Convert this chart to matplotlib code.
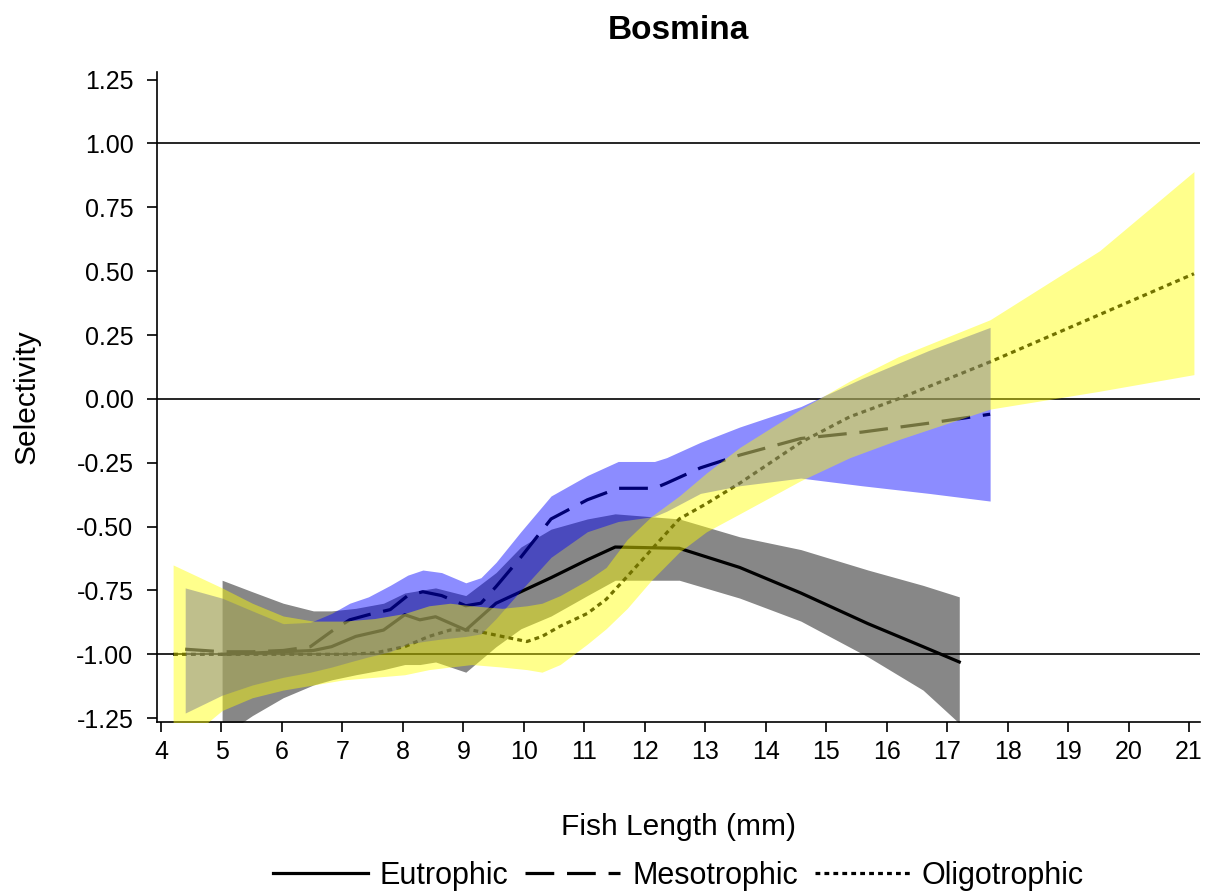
import numpy as np
import matplotlib
matplotlib.use("Agg")
import matplotlib.pyplot as plt
from matplotlib.ticker import FormatStrFormatter

plt.rcParams['font.family'] = ['Liberation Sans', 'DejaVu Sans']
plt.rcParams['axes.unicode_minus'] = False

# Eutrophic (solid line, gray band)
eu_x = [5.01, 5.51, 6.02, 6.52, 6.82, 7.22, 7.68, 8.03, 8.28, 8.54, 9.04, 9.54, 9.95, 10.45, 11.05, 11.51, 12.57, 13.57, 14.58, 15.69, 16.6, 17.2]
eu_y = [-1.0, -0.995, -0.99, -0.985, -0.97, -0.93, -0.905, -0.845, -0.865, -0.853, -0.905, -0.80, -0.755, -0.70, -0.63, -0.58, -0.585, -0.66, -0.76, -0.88, -0.97, -1.03]
eu_hi = [-0.71, -0.755, -0.80, -0.83, -0.83, -0.82, -0.80, -0.76, -0.75, -0.74, -0.77, -0.68, -0.58, -0.51, -0.47, -0.45, -0.47, -0.54, -0.59, -0.67, -0.73, -0.775]
eu_lo = [-1.32, -1.24, -1.17, -1.12, -1.10, -1.08, -1.06, -1.04, -1.04, -1.03, -1.07, -0.97, -0.90, -0.85, -0.77, -0.71, -0.71, -0.78, -0.87, -1.01, -1.14, -1.27]

# Mesotrophic (dashed line, blue band)
me_x = [4.4, 5.01, 5.51, 6.02, 6.47, 6.82, 7.12, 7.43, 7.79, 8.08, 8.33, 8.64, 9.04, 9.29, 9.54, 9.95, 10.45, 11.05, 11.56, 12.16, 12.36, 12.92, 13.57, 14.58, 15.59, 16.7, 17.71]
me_y = [-0.98, -0.99, -0.99, -0.985, -0.97, -0.91, -0.865, -0.845, -0.825, -0.77, -0.755, -0.77, -0.81, -0.80, -0.735, -0.62, -0.47, -0.395, -0.35, -0.35, -0.33, -0.27, -0.22, -0.155, -0.13, -0.095, -0.06]
me_hi = [-0.74, -0.78, -0.83, -0.88, -0.875, -0.84, -0.80, -0.775, -0.73, -0.69, -0.67, -0.68, -0.72, -0.70, -0.64, -0.52, -0.38, -0.30, -0.245, -0.245, -0.23, -0.17, -0.11, -0.03, 0.08, 0.19, 0.28]
me_lo = [-1.23, -1.16, -1.12, -1.09, -1.07, -1.05, -1.03, -1.01, -0.99, -0.96, -0.95, -0.94, -0.93, -0.92, -0.86, -0.75, -0.62, -0.52, -0.48, -0.46, -0.44, -0.37, -0.34, -0.31, -0.34, -0.37, -0.40]

# Oligotrophic (dotted line, yellow band)
ol_x = [4.2, 5.01, 5.51, 6.02, 6.52, 7.02, 7.53, 8.03, 8.43, 8.78, 9.14, 9.64, 10.05, 10.3, 10.6, 11.05, 11.36, 11.71, 12.11, 12.57, 13.02, 13.57, 14.58, 15.39, 16.19, 17.71, 19.52, 21.08]
ol_y = [-1.0, -1.0, -1.0, -1.0, -1.0, -1.0, -0.995, -0.97, -0.93, -0.905, -0.905, -0.93, -0.95, -0.93, -0.89, -0.84, -0.785, -0.695, -0.59, -0.47, -0.41, -0.33, -0.17, -0.07, 0.0, 0.145, 0.33, 0.49]
ol_hi = [-0.65, -0.74, -0.80, -0.85, -0.87, -0.87, -0.86, -0.84, -0.81, -0.80, -0.81, -0.82, -0.81, -0.80, -0.77, -0.71, -0.66, -0.55, -0.46, -0.38, -0.29, -0.19, -0.04, 0.07, 0.165, 0.31, 0.58, 0.89]
ol_lo = [-1.38, -1.22, -1.17, -1.14, -1.12, -1.10, -1.09, -1.08, -1.06, -1.05, -1.04, -1.05, -1.06, -1.07, -1.04, -0.96, -0.90, -0.82, -0.71, -0.60, -0.52, -0.45, -0.32, -0.23, -0.16, -0.04, 0.03, 0.095]

x_ticks = list(range(4, 22))
y_ticks = [-1.25, -1.0, -0.75, -0.5, -0.25, 0.0, 0.25, 0.5, 0.75, 1.0, 1.25]
ref_lines = [-1.0, 0.0, 1.0]

fig = plt.figure(figsize=(12.06, 8.94), dpi=100)
ax = fig.add_axes([0.1302, 0.1924, 0.8648, 0.7271])

for r in ref_lines:
    ax.axhline(r, color="black", lw=1.2, zorder=1)

lw = 2.3
ax.plot(eu_x, eu_y, color="black", lw=lw, ls="-", label="Eutrophic", zorder=2)
ax.plot(me_x, me_y, color="black", lw=lw, dashes=(9, 4), label="Mesotrophic", zorder=2)
ax.plot(ol_x, ol_y, color="black", lw=lw, dashes=(1.5, 1.3), label="Oligotrophic", zorder=2)

ax.fill_between(eu_x, eu_lo, eu_hi, color="black", alpha=0.47, lw=0, zorder=3)
ax.fill_between(me_x, me_lo, me_hi, color="#0000ff", alpha=0.45, lw=0, zorder=4)
ax.fill_between(ol_x, ol_lo, ol_hi, color="#ffff00", alpha=0.45, lw=0, zorder=5)

ax.set_xlim(3.934, 21.18)
ax.set_ylim(-1.265, 1.28)
ax.set_xticks(x_ticks)
ax.set_yticks(y_ticks)
ax.yaxis.set_major_formatter(FormatStrFormatter('%.2f'))
ax.tick_params(labelsize=18, length=7, width=1.2, direction="out")
ax.tick_params(axis="y", pad=10)
ax.tick_params(axis="x", pad=6)

for s in ["top", "right"]:
    ax.spines[s].set_visible(False)
for s in ["left", "bottom"]:
    ax.spines[s].set_linewidth(1.2)

ax.set_xlabel("Fish Length (mm)", fontsize=21.5, labelpad=35)
ax.set_ylabel("Selectivity", fontsize=21.5, labelpad=26)
ax.set_title("Bosmina", fontsize=24, fontweight="bold", pad=24)

ax.legend(loc="center", bbox_to_anchor=(0.5, -0.237), ncol=3, frameon=False,
          fontsize=22, handlelength=3.1, handletextpad=0.4, columnspacing=0.55)

fig.savefig("out.png", dpi=100)
